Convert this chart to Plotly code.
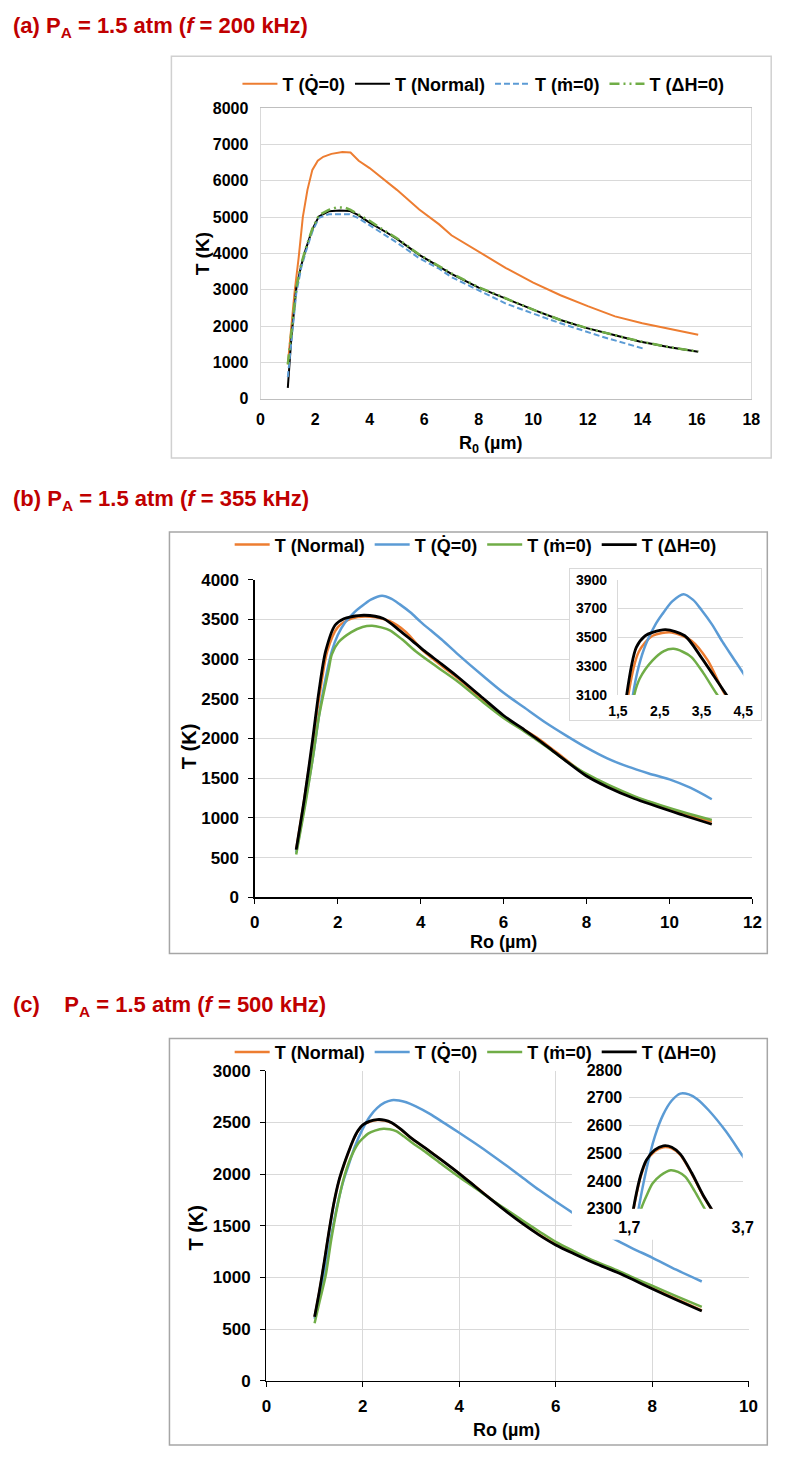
import plotly.graph_objects as go

W, H = 789, 1457
FONT = "Liberation Sans, Arial, sans-serif"
RED = "#C00000"
ORANGE = "#ED7D31"
BLUE = "#5B9BD5"
GREEN = "#70AD47"
BLACK = "#000000"
GRID = "#D9D9D9"

LBL_Q = "T (Q\u0307=0)"
LBL_N = "T (Normal)"
LBL_M = "T (m\u0307=0)"
LBL_H = "T (\u0394H=0)"

# ---------------- Panel (a): f = 200 kHz ----------------
a_q0_x = [1.0, 1.25, 1.4, 1.55, 1.72, 1.9, 2.1, 2.3, 2.6, 3.0, 3.3, 3.6, 4.0, 4.64, 5.0, 5.82,
          6.55, 7.0, 8.0, 9.0, 10.0, 11.0, 12.0, 13.0, 14.0, 15.0, 16.05]
a_q0_y = [950, 2950, 3900, 5000, 5750, 6300, 6550, 6660, 6740, 6790, 6780, 6550, 6350, 5970, 5750, 5210,
          4800, 4500, 4050, 3600, 3200, 2850, 2550, 2270, 2080, 1930, 1765]

a_norm_x = [1.0, 1.13, 1.31, 1.49, 1.66, 1.9, 2.14, 2.5, 2.9, 3.27, 3.57, 4.0, 4.64, 5.0, 5.82,
            6.55, 7.0, 8.0, 9.0, 10.11, 11.0, 11.9, 13.0, 13.9, 15.0, 16.05]
a_norm_y = [300, 1675, 3030, 3665, 4120, 4660, 5020, 5160, 5180, 5170, 5060, 4850, 4570, 4400, 3960,
            3640, 3440, 3060, 2750, 2420, 2170, 1960, 1750, 1580, 1420, 1295]

a_m0_x = [1.0, 1.13, 1.31, 1.49, 1.66, 1.9, 2.14, 2.5, 3.0, 3.27, 3.57, 4.0, 4.64, 5.0, 5.82,
          6.55, 7.0, 8.09, 9.0, 10.46, 11.0, 12.48, 13.0, 14.05]
a_m0_y = [600, 1500, 2900, 3600, 4050, 4600, 4980, 5080, 5090, 5080, 4980, 4780, 4480, 4300, 3870,
          3580, 3350, 2940, 2620, 2220, 2080, 1720, 1610, 1380]

a_dh0_x = [1.0, 1.13, 1.31, 1.49, 1.66, 1.9, 2.14, 2.5, 2.8, 3.1, 3.3, 3.57, 4.0, 4.5, 5.0, 5.82,
           6.55, 7.0, 8.0, 9.0, 10.11, 11.0, 12.0, 13.0, 14.0, 15.0, 16.05]
a_dh0_y = [950, 1900, 3050, 3700, 4150, 4680, 5050, 5200, 5270, 5260, 5200, 5080, 4900, 4650, 4420, 3970,
           3660, 3450, 3070, 2760, 2420, 2170, 1940, 1750, 1570, 1420, 1300]

# ---------------- Panel (b): f = 355 kHz ----------------
b_norm_x = [1.0, 1.2, 1.4, 1.55, 1.75, 2.0, 2.33, 2.79, 3.26, 3.65, 4.03, 4.5, 4.9, 5.5, 6.0,
            6.5, 6.86, 7.25, 7.98, 8.5, 9.15, 10.32, 11.02]
b_norm_y = [600, 1250, 1950, 2500, 3100, 3400, 3511, 3534, 3477, 3340, 3120, 2920, 2760, 2490, 2270,
            2110, 1990, 1835, 1545, 1400, 1265, 1060, 950]

b_q0_x = [1.0, 1.2, 1.4, 1.6, 1.86, 2.0, 2.17, 2.4, 2.56, 2.8, 3.07, 3.3, 3.5, 3.75, 4.0, 4.25,
          4.5, 4.9, 5.5, 6.0, 6.5, 7.0, 7.5, 8.0, 8.5, 9.0, 9.5, 10.0, 10.5, 11.02]
b_q0_y = [560, 1150, 1750, 2450, 3100, 3300, 3454, 3590, 3660, 3750, 3800, 3760, 3690, 3590, 3470, 3360,
          3250, 3060, 2790, 2575, 2390, 2205, 2040, 1885, 1750, 1645, 1560, 1485, 1380, 1235]

b_m0_x = [1.0, 1.23, 1.4, 1.55, 1.78, 1.86, 2.02, 2.33, 2.6, 2.83, 3.05, 3.26, 3.55, 3.88, 4.4, 4.9,
          5.5, 6.0, 6.5, 7.0, 7.5, 7.98, 9.15, 10.32, 11.02]
b_m0_y = [540, 1200, 1750, 2280, 2860, 3060, 3212, 3340, 3405, 3420, 3400, 3363, 3250, 3100, 2900, 2715,
          2460, 2259, 2090, 1910, 1720, 1560, 1275, 1075, 974]

b_dh0_x = [1.0, 1.2, 1.4, 1.55, 1.71, 1.94, 2.15, 2.33, 2.64, 3.1, 3.49, 3.8, 4.1, 4.5, 4.9, 5.5,
           6.0, 6.5, 6.85, 7.25, 7.98, 8.5, 9.15, 10.32, 11.02]
b_dh0_y = [600, 1250, 2000, 2600, 3100, 3430, 3510, 3534, 3553, 3511, 3363, 3230, 3100, 2940, 2775, 2510,
           2290, 2110, 1980, 1820, 1534, 1390, 1244, 1036, 920]

b_in_xt = [1.5, 2.5, 3.5, 4.5]
b_in_xl = ["1,5", "2,5", "3,5", "4,5"]

# ---------------- Panel (c): f = 500 kHz ----------------
c_dh0_x = [1.0, 1.1, 1.2, 1.3, 1.4, 1.5, 1.6, 1.7, 1.8, 1.9, 2.0, 2.15, 2.3, 2.45, 2.6, 2.8, 3.0,
           3.3, 3.65, 4.0, 4.33, 4.66, 5.0, 5.33, 5.66, 6.0, 6.4, 6.8, 7.27, 7.6, 8.0, 8.5, 9.03]
c_dh0_y = [620, 870, 1150, 1450, 1720, 1930, 2080, 2210, 2330, 2420, 2475, 2512, 2527, 2522, 2497, 2430, 2350,
           2250, 2130, 2005, 1880, 1755, 1630, 1515, 1410, 1315, 1225, 1140, 1050, 980, 891, 785, 675]

c_norm_x = c_dh0_x
c_norm_y = [615, 865, 1145, 1445, 1715, 1925, 2075, 2205, 2325, 2415, 2470, 2507, 2522, 2518, 2494, 2427, 2348,
            2249, 2130, 2006, 1882, 1757, 1633, 1518, 1414, 1320, 1230, 1146, 1055, 986, 897, 792, 682]

c_q0_x = [1.0, 1.1, 1.2, 1.3, 1.4, 1.5, 1.6, 1.7, 1.83, 2.0, 2.15, 2.3, 2.45, 2.6, 2.75, 2.9, 3.1,
          3.4, 3.7, 4.0, 4.32, 4.66, 5.0, 5.33, 5.66, 6.0, 6.4, 6.8, 7.2, 7.6, 8.0, 8.5, 9.03]
c_q0_y = [600, 800, 1030, 1290, 1540, 1760, 1940, 2080, 2260, 2440, 2560, 2640, 2690, 2715, 2712, 2695, 2655,
          2580, 2490, 2400, 2300, 2190, 2075, 1960, 1845, 1735, 1610, 1490, 1375, 1280, 1193, 1075, 961]

c_m0_x = [1.0, 1.1, 1.23, 1.35, 1.5, 1.6, 1.7, 1.8, 1.91, 2.0, 2.11, 2.25, 2.43, 2.56, 2.69, 2.85, 3.03,
          3.31, 3.65, 3.99, 4.33, 4.66, 5.0, 5.33, 5.66, 6.0, 6.4, 6.8, 7.27, 7.6, 8.0, 8.5, 9.03]
c_m0_y = [557, 760, 1018, 1380, 1750, 1950, 2100, 2210, 2300, 2345, 2391, 2420, 2439, 2433, 2415, 2365, 2300,
          2210, 2090, 1975, 1865, 1756, 1650, 1545, 1445, 1345, 1250, 1160, 1070, 1000, 920, 820, 716]

c_in_xt = [1.7, 3.7]
c_in_xl = ["1,7", "3,7"]


def fx(p):
    return p / W


def fy(p):
    return 1 - p / H


fig = go.Figure()


def add(x, y, name, color, width, xa, ya, legend, show=True, dash="solid", shape="linear"):
    line = dict(color=color, width=width, dash=dash, shape=shape)
    if shape == "spline":
        line["smoothing"] = 0.8
    fig.add_trace(go.Scatter(
        x=x, y=y, name=name, mode="lines", xaxis=xa, yaxis=ya, legend=legend,
        showlegend=show, hoverinfo="skip", line=line,
    ))


# (a)
add(a_q0_x, a_q0_y, LBL_Q, ORANGE, 2, "x", "y", "legend")
add(a_norm_x, a_norm_y, LBL_N, BLACK, 2, "x", "y", "legend")
add(a_m0_x, a_m0_y, LBL_M, BLUE, 2, "x", "y", "legend", dash="6px,3px")
add(a_dh0_x, a_dh0_y, LBL_H, GREEN, 2.5, "x", "y", "legend", dash="10px,4px,2px,4px,2px,4px")

# (b) main
add(b_norm_x, b_norm_y, LBL_N, ORANGE, 2.5, "x2", "y2", "legend2", shape="spline")
add(b_q0_x, b_q0_y, LBL_Q, BLUE, 2.5, "x2", "y2", "legend2", shape="spline")
add(b_m0_x, b_m0_y, LBL_M, GREEN, 2.5, "x2", "y2", "legend2", shape="spline")
add(b_dh0_x, b_dh0_y, LBL_H, BLACK, 2.8, "x2", "y2", "legend2", shape="spline")
# (b) inset cover box
fig.add_trace(go.Scatter(x=[], y=[], xaxis="x3", yaxis="y3", showlegend=False, hoverinfo="skip"))
# (b) inset
add(b_norm_x, b_norm_y, LBL_N, ORANGE, 2.5, "x4", "y4", "legend2", show=False, shape="spline")
add(b_q0_x, b_q0_y, LBL_Q, BLUE, 2.5, "x4", "y4", "legend2", show=False, shape="spline")
add(b_m0_x, b_m0_y, LBL_M, GREEN, 2.5, "x4", "y4", "legend2", show=False, shape="spline")
add(b_dh0_x, b_dh0_y, LBL_H, BLACK, 2.8, "x4", "y4", "legend2", show=False, shape="spline")

# (c) main
add(c_norm_x, c_norm_y, LBL_N, ORANGE, 2.5, "x5", "y5", "legend3", shape="spline")
add(c_q0_x, c_q0_y, LBL_Q, BLUE, 2.5, "x5", "y5", "legend3", shape="spline")
add(c_m0_x, c_m0_y, LBL_M, GREEN, 2.5, "x5", "y5", "legend3", shape="spline")
add(c_dh0_x, c_dh0_y, LBL_H, BLACK, 2.8, "x5", "y5", "legend3", shape="spline")
# (c) inset cover box
fig.add_trace(go.Scatter(x=[], y=[], xaxis="x6", yaxis="y6", showlegend=False, hoverinfo="skip"))
# (c) inset
add(c_norm_x, c_norm_y, LBL_N, ORANGE, 2.5, "x7", "y7", "legend3", show=False, shape="spline")
add(c_q0_x, c_q0_y, LBL_Q, BLUE, 2.5, "x7", "y7", "legend3", show=False, shape="spline")
add(c_m0_x, c_m0_y, LBL_M, GREEN, 2.5, "x7", "y7", "legend3", show=False, shape="spline")
add(c_dh0_x, c_dh0_y, LBL_H, BLACK, 2.8, "x7", "y7", "legend3", show=False, shape="spline")


def tf(size):
    return dict(family=FONT, size=size, color="black", weight="bold")


base = dict(zeroline=False, fixedrange=True)

layout = dict(
    width=W, height=H, margin=dict(l=0, r=0, t=0, b=0),
    paper_bgcolor="white", plot_bgcolor="white",
    font=dict(family=FONT, color="black"),
    # (a)
    xaxis=dict(base, domain=[fx(256.7), fx(761.6)], range=[0, 18], dtick=2, tick0=0, showgrid=False,
               showline=True, linecolor="#BFBFBF", mirror=True, ticks="", tickfont=tf(16),
               ticklabelstandoff=6, anchor="y"),
    yaxis=dict(base, domain=[fy(395), fy(100.4)], range=[0, 8000], dtick=1000, gridcolor=GRID,
               showline=True, linecolor=GRID, mirror=True, ticks="", tickfont=tf(16),
               ticklabelstandoff=8, anchor="x"),
    # (b)
    xaxis2=dict(base, domain=[fx(250.7), fx(762.7)], range=[0, 12], dtick=2, showgrid=False,
                showline=True, linecolor="black", linewidth=1.3, ticks="outside", ticklen=5,
                tickcolor="black", tickfont=tf(17), ticklabelstandoff=4, anchor="y2"),
    yaxis2=dict(base, domain=[fy(900), fy(578.3)], range=[0, 4000], dtick=500, gridcolor=GRID,
                showline=True, linecolor="black", linewidth=1.3, ticks="outside", ticklen=5,
                tickcolor="black", tickfont=tf(17), ticklabelstandoff=6, anchor="x2"),
    xaxis3=dict(base, domain=[fx(575), fx(771)], range=[0, 1], showgrid=False, showline=True,
                linecolor="#D9D9D9", mirror=True, showticklabels=False, ticks="", anchor="y3"),
    yaxis3=dict(base, domain=[fy(720), fy(567)], range=[0, 1], showgrid=False, showline=True,
                linecolor="#D9D9D9", mirror=True, showticklabels=False, ticks="", anchor="x3"),
    xaxis4=dict(base, domain=[fx(624.3), fx(753.3)], range=[1.5, 4.5], tickvals=b_in_xt, ticktext=b_in_xl,
                showgrid=False, showline=False, ticks="", tickfont=tf(14), ticklabelstandoff=6, anchor="y4"),
    yaxis4=dict(base, domain=[fy(695), fy(578.3)], range=[3100, 3900], tick0=3100, dtick=200, gridcolor=GRID,
                showline=True, linecolor=GRID, ticks="", tickfont=tf(14), ticklabelstandoff=7, anchor="x4"),
    # (c)
    xaxis5=dict(base, domain=[fx(262.7), fx(758.7)], range=[0, 10], dtick=2, showgrid=True, gridcolor=GRID,
                showline=True, linecolor="black", linewidth=1.3, ticks="outside", ticklen=5,
                tickcolor="black", tickfont=tf(17), ticklabelstandoff=4, anchor="y5"),
    yaxis5=dict(base, domain=[fy(1390), fy(1075.7)], range=[0, 3000], dtick=500, gridcolor=GRID,
                showline=True, linecolor="black", linewidth=1.3, ticks="outside", ticklen=5,
                tickcolor="black", tickfont=tf(17), ticklabelstandoff=6, anchor="x5"),
    xaxis6=dict(base, domain=[fx(577), fx(772)], range=[0, 1], visible=False, anchor="y6"),
    yaxis6=dict(base, domain=[fy(1247), fy(1064)], range=[0, 1], visible=False, anchor="x6"),
    xaxis7=dict(base, domain=[fx(636), fx(752.7)], range=[1.7, 3.7], tickvals=c_in_xt, ticktext=c_in_xl,
                showgrid=True, gridcolor=GRID, showline=False, ticks="", tickfont=tf(16),
                ticklabelstandoff=7, anchor="y7"),
    yaxis7=dict(base, domain=[fy(1215.7), fy(1075)], range=[2300, 2800], dtick=100, gridcolor=GRID,
                showline=False, ticks="", tickfont=tf(16), ticklabelstandoff=6, anchor="x7"),
    legend=dict(orientation="h", x=fx(486), y=fy(76), xanchor="center", yanchor="middle", itemwidth=35,
                font=tf(18), bgcolor="rgba(0,0,0,0)", traceorder="normal"),
    legend2=dict(orientation="h", x=fx(478), y=fy(543), xanchor="center", yanchor="middle", itemwidth=35,
                 font=tf(18), bgcolor="rgba(0,0,0,0)", traceorder="normal"),
    legend3=dict(orientation="h", x=fx(478), y=fy(1057), xanchor="center", yanchor="middle", itemwidth=35,
                 font=tf(18), bgcolor="rgba(0,0,0,0)", traceorder="normal"),
)
fig.update_layout(**layout)

# panel frames
frames = [(165, 48, 782, 455, "#D0D0D0"), (163, 530, 778, 957, "#A6A6A6"), (163, 1043, 778, 1455, "#A6A6A6")]
for x0, y0, x1, y1, col in frames:
    fig.add_shape(type="rect", xref="paper", yref="paper", x0=fx(x0), x1=fx(x1), y0=fy(y1), y1=fy(y0),
                  line=dict(color=col, width=1.5), fillcolor="rgba(0,0,0,0)", layer="below")

titles = [
    ("<b>(a) P<sub>A</sub> = 1.5 atm (<i>f</i> = 200 kHz)</b>", 18),
    ("<b>(b) P<sub>A</sub> = 1.5 atm (<i>f</i> = 355 kHz)</b>", 497),
    ("<b>(c)\u00a0\u00a0\u00a0\u00a0P<sub>A</sub> = 1.5 atm (<i>f</i> = 500 kHz)</b>", 1010),
]
for txt, yy in titles:
    fig.add_annotation(text=txt, xref="paper", yref="paper", x=0, y=fy(yy), xanchor="left",
                       yanchor="middle", showarrow=False, font=dict(family=FONT, size=22, color=RED))

axis_titles = [
    ("T (K)", 197, 248, -90, 19),
    ("R<sub>0</sub> (\u00b5m)", 493, 441, 0, 18),
    ("T (K)", 183, 747, -90, 20),
    ("Ro (\u00b5m)", 507, 945, 0, 18),
    ("T (K)", 190, 1235, -90, 20),
    ("Ro (\u00b5m)", 510, 1440, 0, 18),
]
for txt, xx, yy, ang, sz in axis_titles:
    fig.add_annotation(text="<b>" + txt + "</b>", xref="paper", yref="paper", x=fx(xx), y=fy(yy),
                       xanchor="center", yanchor="middle", showarrow=False, textangle=ang,
                       font=dict(family=FONT, size=sz, color="black"))

pin = ("document.documentElement.style.margin='0px';document.body.style.margin='0px';"
       "document.body.style.padding='0px';document.documentElement.style.overflow='hidden';"
       "document.body.style.overflow='hidden';"
       "var gd=document.getElementById('{plot_id}');gd.style.position='fixed';"
       "gd.style.left='0px';gd.style.top='0px';")

fig.write_html("out.html", config={"displayModeBar": False, "staticPlot": True}, post_script=pin)
